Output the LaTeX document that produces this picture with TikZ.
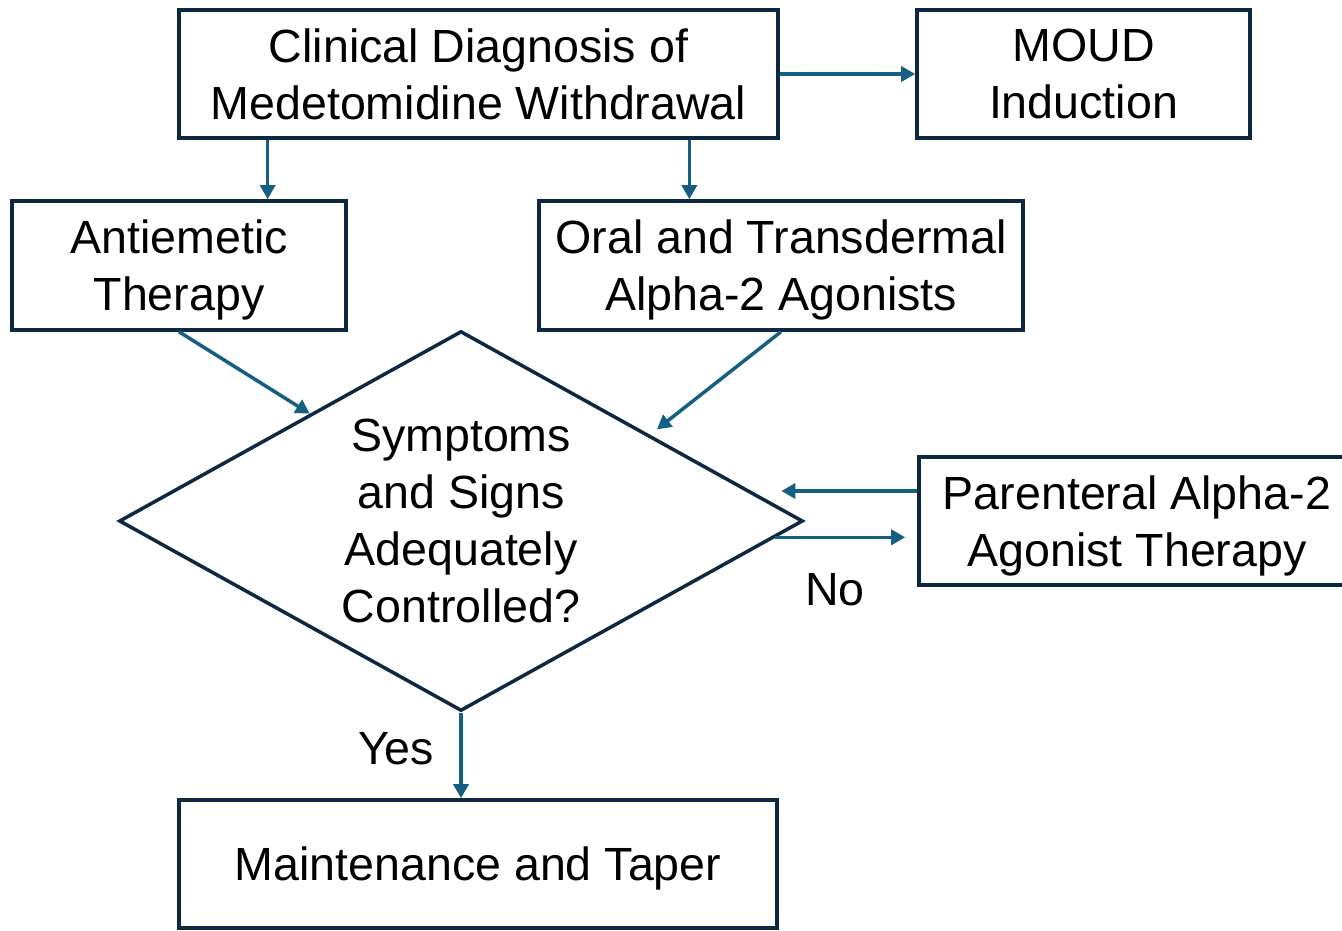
\documentclass[tikz,border=0pt]{standalone}
\usepackage{fontspec}
\setmainfont{Liberation Sans}
\usetikzlibrary{shapes.geometric,arrows.meta,calc}
\definecolor{boxline}{HTML}{0E2841}
\definecolor{arrowblue}{HTML}{156082}
\tikzset{flow_box/.style={rectangle, draw=boxline, line width=2pt, align=center, inner sep=0pt, text depth=0pt, font=\fontsize{26.5}{32.5}\selectfont}}
\tikzset{flow_arrow/.style={draw=arrowblue, line width=2pt, -{Triangle[length=8pt,width=8.5pt]}}}
\tikzset{flow_label/.style={inner sep=0pt, font=\fontsize{26.5}{32.5}\selectfont}}

\begin{document}
\begin{tikzpicture}[x=0.02cm,y=-0.02cm]
    \useasboundingbox (0,0) rectangle (1342,930);
    % boxes
    \node[flow_box, minimum width=11.98cm, minimum height=2.56cm] (diag) at (478.5,74) {Clinical Diagnosis of\\Medetomidine Withdrawal};
    \node[flow_box, minimum width=6.66cm, minimum height=2.56cm] (moud) at (1083.5,74) {MOUD\\Induction};
    \node[flow_box, minimum width=6.68cm, minimum height=2.58cm] (anti) at (179,265.5) {Antiemetic\\Therapy};
    \node[flow_box, minimum width=9.68cm, minimum height=2.58cm] (oral) at (781,265.5) {Oral and Transdermal\\Alpha-2 Agonists};
    \node[flow_box, minimum width=8.72cm, minimum height=2.56cm] (par) at (1137,521) {Parenteral Alpha-2\\Agonist Therapy};
    \node[flow_box, minimum width=11.96cm, minimum height=2.56cm] (maint) at (478,864) {Maintenance and Taper};
    \node[diamond, draw=boxline, line width=2pt, inner sep=0pt, minimum width=13.68cm, minimum height=7.6cm] (dia) at (461,521) {};
    \node[flow_label, align=center] (question) at (dia) {Symptoms\\and Signs\\Adequately\\Controlled?};
    % connectors
    \coordinate (diag_left) at ($(diag.south west)!0.15!(diag.south east)$);
    \coordinate (diag_right) at ($(diag.south west)!0.85!(diag.south east)$);
    \coordinate (dia_in_left) at ($(dia.west)!0.56!(dia.north)$);
    \coordinate (dia_in_right) at ($(dia.north)!0.55!(dia.east)$);
    \coordinate (dia_out) at ($(dia.east)!0.085!(dia.south)$);
    \draw[flow_arrow] (diag.east) -- (moud.west);
    \draw[flow_arrow] (diag_left) -- (diag_left |- anti.north);
    \draw[flow_arrow] (diag_right) -- (diag_right |- oral.north);
    \draw[flow_arrow] (anti.south) -- (dia_in_left);
    \draw[flow_arrow, shorten >=5pt] (oral.south) -- (dia_in_right);
    \draw[flow_arrow] ([yshift=0.6cm]par.west) -- ++(-136,0);
    \draw[flow_arrow, shorten >=0.24cm] (dia_out) -- (dia_out -| par.west);
    \draw[flow_arrow] (dia.south) -- (dia.south |- maint.north);
    % labels
    \node[flow_label, anchor=base] (no_label) at (835,605) {No};
    \node[flow_label, anchor=base] (yes_label) at (396,764) {Yes};
\end{tikzpicture}
\end{document}
